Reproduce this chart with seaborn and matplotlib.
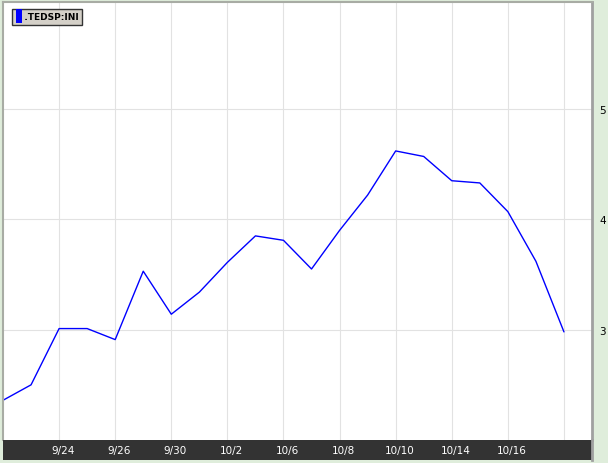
import numpy as np
import pandas as pd
import matplotlib.pyplot as plt
import seaborn as sns
from matplotlib.patches import Rectangle

# TED spread, trading days 9/22 - 10/20
dates = ["9/22", "9/23", "9/24", "9/25", "9/26", "9/29", "9/30", "10/1", "10/2", "10/3",
         "10/6", "10/7", "10/8", "10/9", "10/10", "10/13", "10/14", "10/15", "10/16", "10/17", "10/20"]
values = [2.36, 2.50, 3.01, 3.01, 2.91, 3.53, 3.14, 3.34, 3.61, 3.85,
          3.81, 3.55, 3.90, 4.22, 4.62, 4.57, 4.35, 4.33, 4.07, 3.62, 2.98]
tick_labels = ["9/24", "9/26", "9/30", "10/2", "10/6", "10/8", "10/10", "10/14", "10/16", ""]
y_ticks = [3, 4, 5]

df = pd.DataFrame({"idx": np.arange(len(dates)), "value": values, "date": dates})

sns.set_style("white")
fig = plt.figure(figsize=(6.08, 4.64), dpi=100)
fig.patch.set_facecolor("#dfeddb")

W, H = 608, 464
ax = fig.add_axes([3 / W, (H - 441) / H, 589 / W, 438 / H])
sns.lineplot(data=df, x="idx", y="value", ax=ax, color="#0000ff", linewidth=1.0)
ax.set_xlim(0, 21)
ax.set_ylim(2.0, 5.97)
ax.set_facecolor("white")

tick_pos = list(range(2, 21, 2))
ax.set_xticks(tick_pos)
ax.set_xticklabels([])
ax.set_yticks(y_ticks)
ax.yaxis.tick_right()
ax.tick_params(axis="y", length=0, pad=5, labelsize=7.5, labelcolor="black")
ax.tick_params(axis="x", length=0)
ax.grid(True, color="#e2e2e2", linewidth=0.8)
ax.set_xlabel("")
ax.set_ylabel("")
for side in ["top", "left"]:
    ax.spines[side].set_color("#a8aca4")
    ax.spines[side].set_linewidth(1.5)
ax.spines["right"].set_color("#a0a0a0")
ax.spines["right"].set_linewidth(2)
ax.spines["bottom"].set_visible(False)

# dark date bar
bar = fig.add_axes([3 / W, (H - 461) / H, 589 / W, 20 / H])
bar.set_facecolor("#333333")
bar.set_xlim(0, 21)
bar.set_ylim(0, 1)
bar.set_xticks([])
bar.set_yticks([])
for side in ["top", "left", "bottom"]:
    bar.spines[side].set_visible(False)
bar.spines["right"].set_color("#a0a0a0")
bar.spines["right"].set_linewidth(2)
for p, lab in zip(tick_pos, tick_labels):
    bar.text(p + 0.15, 0.5, lab, color="white", fontsize=7.5, ha="center", va="center")

# legend box
ax.text(0.0205, 0.966, "   .TEDSP:INI", transform=ax.transAxes, fontsize=6.5,
        fontweight="bold", color="black", ha="left", va="center",
        bbox=dict(boxstyle="square,pad=0.35", facecolor="#d4d0c8", edgecolor="#333333", linewidth=1))
ax.add_patch(Rectangle((13 / 589, 1 - 21 / 438), 6 / 589, 14 / 438, transform=ax.transAxes,
                       facecolor="#0000ff", edgecolor="none", zorder=5))

fig.savefig("out.png", dpi=100)
